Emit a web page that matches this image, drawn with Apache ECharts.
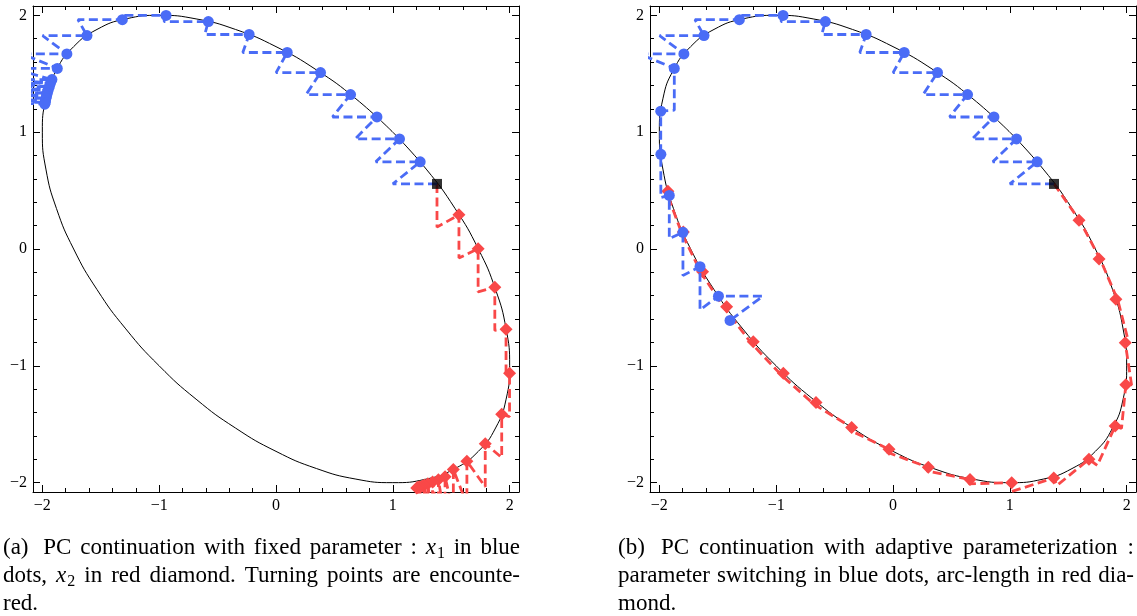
<!DOCTYPE html>
<html><head><meta charset="utf-8">
<script src="https://cdn.jsdelivr.net/npm/echarts@6/dist/echarts.min.js"></script>
<style>html,body{margin:0;padding:0;background:#fff}#c{width:1137px;height:616px}</style>
</head><body><div id="c"></div>
<script>
// ---------- data ----------
const majorTicks = [-2, -1, 0, 1, 2];
const minorTicks = [-2, -1.8, -1.6, -1.4, -1.2, -1, -0.8, -0.6, -0.4, -0.2, 0, 0.2, 0.4, 0.6, 0.8, 1, 1.2, 1.4, 1.6, 1.8, 2];

// solution curve (ellipse)
const curvePts = [[1,1],[1.2856,0.6841],[1.5321,0.3473],[1.7321,0],[1.8794,-0.3473],[1.9696,-0.684],[2,-1],[1.9696,-1.2856],[1.8794,-1.5321],[1.7321,-1.7321],[1.5321,-1.8794],[1.2856,-1.9696],[1,-2],[0.684,-1.9696],[0.3473,-1.8794],[0,-1.7321],[-0.3473,-1.5321],[-0.6841,-1.2855],[-1,-1],[-1.2855,-0.6841],[-1.5321,-0.3473],[-1.7321,0],[-1.8794,0.3473],[-1.9696,0.684],[-2,1],[-1.9696,1.2856],[-1.8794,1.5321],[-1.7321,1.7321],[-1.5321,1.8794],[-1.2856,1.9696],[-1,2],[-0.684,1.9696],[-0.3473,1.8794],[0,1.7321],[0.3473,1.5321],[0.6841,1.2855],[1,1]];

const startPt = [1.378, 0.557];

// (a) fixed parameter x1 : blue dots and predictor points
const aBlueDots = [[1.234,0.746],[1.057,0.942],[0.864,1.13],[0.638,1.322],[0.381,1.51],[0.096,1.682],[-0.23,1.836],[-0.579,1.947],[-0.941,1.999],[-1.315,1.963],[-1.618,1.827],[-1.79,1.67],[-1.872,1.546],[-1.918,1.45],[-1.93,1.42],[-1.94,1.39],[-1.95,1.36],[-1.957,1.335],[-1.964,1.31],[-1.969,1.29],[-1.973,1.27],[-1.976,1.255],[-1.979,1.24]];
const aBluePreds = [[1.0,0.557],[0.854,0.746],[0.677,0.942],[0.484,1.13],[0.258,1.322],[0.001,1.51],[-0.284,1.682],[-0.61,1.836],[-0.959,1.947],[-1.321,1.999],[-1.695,1.963],[-1.998,1.827],[-2.17,1.67],[-2.252,1.546],[-2.298,1.45],[-2.31,1.42],[-2.32,1.39],[-2.33,1.36],[-2.337,1.335],[-2.344,1.31],[-2.349,1.29],[-2.353,1.27],[-2.356,1.255]];
// (a) fixed parameter x2 : red diamonds and predictor points
const aRedDots = [[1.566,0.293],[1.73,0.003],[1.873,-0.327],[1.969,-0.686],[1.999,-1.064],[1.932,-1.415],[1.791,-1.666],[1.634,-1.816],[1.518,-1.887],[1.447,-1.95],[1.39,-1.975],[1.34,-1.995],[1.3,-2.01],[1.27,-2.02],[1.25,-2.03],[1.23,-2.035],[1.215,-2.04],[1.205,-2.045]];
const aRedPreds = [[1.378,0.187],[1.566,-0.077],[1.73,-0.367],[1.873,-0.697],[1.969,-1.056],[1.999,-1.434],[1.932,-1.785],[1.791,-2.036],[1.634,-2.186],[1.518,-2.257],[1.447,-2.32],[1.39,-2.345],[1.34,-2.365],[1.3,-2.38],[1.27,-2.39],[1.25,-2.4],[1.23,-2.405],[1.215,-2.41]];

// (b) parameter switching : blue dots and predictor points
const bBlueDots = [[1.234,0.746],[1.057,0.942],[0.864,1.13],[0.638,1.322],[0.381,1.51],[0.096,1.682],[-0.23,1.836],[-0.579,1.947],[-0.941,1.999],[-1.315,1.963],[-1.618,1.827],[-1.79,1.67],[-1.872,1.546],[-1.988,1.18],[-1.987,0.81],[-1.915,0.459],[-1.798,0.143],[-1.652,-0.151],[-1.494,-0.404],[-1.395,-0.611]];
const bBluePreds = [[1.0,0.557],[0.854,0.746],[0.677,0.942],[0.484,1.13],[0.258,1.322],[0.001,1.51],[-0.284,1.682],[-0.61,1.836],[-0.959,1.947],[-1.321,1.999],[-1.695,1.963],[-1.998,1.827],[-2.17,1.67],[-1.872,1.188],[-1.988,0.81],[-1.987,0.44],[-1.915,0.089],[-1.798,-0.227],[-1.652,-0.521],[-1.114,-0.404]];
// (b) arc-length : red diamonds and predictor points
const bRedDots = [[1.592,0.246],[1.764,-0.085],[1.908,-0.43],[1.988,-0.803],[1.993,-1.163],[1.902,-1.515],[1.677,-1.8],[1.376,-1.96],[1.016,-2.0],[0.659,-1.972],[0.302,-1.869],[-0.034,-1.715],[-0.354,-1.527],[-0.659,-1.313],[-0.939,-1.064],[-1.196,-0.794],[-1.424,-0.494],[-1.63,-0.194],[-1.795,0.145],[-1.927,0.495]];
const bRedPreds = [[1.6,0.24],[1.775,-0.09],[1.925,-0.44],[2.02,-0.81],[2.042,-1.163],[1.956,-1.536],[1.749,-1.852],[1.404,-2.024],[1.016,-2.076],[0.65,-2.01],[0.29,-1.9],[-0.05,-1.74],[-0.37,-1.55],[-0.675,-1.33],[-0.955,-1.08],[-1.21,-0.81],[-1.44,-0.51],[-1.645,-0.2],[-1.81,0.14],[-1.94,0.49]];

// captions
const captionA = [
  ["(a)","PC","continuation","with","fixed","parameter",":",["x","1"],"in","blue"],
  ["dots,",["x","2"],"in","red","diamond.","Turning","points","are","encounte-"],
  ["red."]
];
const captionB = [
  ["(b)","PC","continuation","with","adaptive","parameterization",":"],
  ["parameter","switching","in","blue","dots,","arc-length","in","red","dia-"],
  ["mond."]
];

// ---------- chart ----------
const FONT = '"Liberation Serif","Times New Roman",serif';
const BLUE = '#4a6cf6', RED = '#f94848';
const RANGE = [-2.08, 2.08];
const fmt = v => (v < 0 ? '\u2212' + Math.abs(v) : String(v));

const grids = [
  {left: 33, top: 6, width: 486, height: 486},
  {left: 650, top: 6, width: 486, height: 486}
];

function axisSet(dim, g) {
  const posA = dim === 'x' ? 'bottom' : 'left';
  const posB = dim === 'x' ? 'top' : 'right';
  const base = {gridIndex: g, type: 'value', min: RANGE[0], max: RANGE[1], splitLine: {show: false}, silent: true};
  const major = (pos, labels) => Object.assign({}, base, {
    position: pos,
    axisLine: {show: true, onZero: false, lineStyle: {color: '#000', width: 1}},
    axisTick: {show: true, inside: true, length: 7, customValues: majorTicks, lineStyle: {color: '#000', width: 1}},
    axisLabel: labels ? {show: true, customValues: majorTicks, formatter: fmt, color: '#000', fontFamily: FONT, fontSize: 16, margin: 6} : {show: false}
  });
  const minor = pos => Object.assign({}, base, {
    position: pos,
    axisLine: {show: false, onZero: false},
    axisTick: {show: true, inside: true, length: 4, customValues: minorTicks, lineStyle: {color: '#000', width: 1}},
    axisLabel: {show: false}
  });
  return [major(posA, true), minor(posA), major(posB, false), minor(posB)];
}

function buildPath(start, preds, dots, symbol, size) {
  const d = [{value: start, symbol: 'none'}];
  for (let i = 0; i < dots.length; i++) {
    d.push({value: preds[i], symbol: 'none'});
    d.push({value: dots[i], symbol: symbol, symbolSize: size});
  }
  return d;
}

function panelSeries(g, bPreds, bDots, rPreds, rDots) {
  const ax = {xAxisIndex: g * 4, yAxisIndex: g * 4};
  return [
    Object.assign({type: 'line', data: curvePts, smooth: 0.5, symbol: 'none', lineStyle: {color: '#000', width: 1}, z: 1, silent: true}, ax),
    Object.assign({type: 'line', data: buildPath(startPt, rPreds, rDots, 'diamond', 13), symbol: 'diamond', showSymbol: true,
      lineStyle: {color: RED, width: 2.8, type: [9, 4.5]}, itemStyle: {color: RED}, z: 2, silent: true}, ax),
    Object.assign({type: 'line', data: buildPath(startPt, bPreds, bDots, 'circle', 11), symbol: 'circle', showSymbol: true,
      lineStyle: {color: BLUE, width: 2.8, type: [9, 4.5]}, itemStyle: {color: BLUE}, z: 3, silent: true}, ax),
    Object.assign({type: 'scatter', data: [startPt], symbol: 'rect', symbolSize: 10, itemStyle: {color: '#000'}, z: 4, silent: true}, ax)
  ];
}

// caption layout (justified lines)
const ctx = document.createElement('canvas').getContext('2d');
const F_MAIN = '23px "Liberation Serif"', F_IT = 'italic 23px "Liberation Serif"', F_SUB = '16px "Liberation Serif"';
function mw(t, f) { ctx.font = f; return ctx.measureText(t).width; }
function tokW(tk) { return Array.isArray(tk) ? mw(tk[0], F_IT) + 1 + mw(tk[1], F_SUB) : mw(tk, F_MAIN); }
function txt(t, f, x, y) {
  return {type: 'text', x: x, y: y, silent: true,
    style: {text: t, font: f, fill: '#000', textAlign: 'left', textVerticalAlign: 'middle', verticalAlign: 'middle'}};
}
function caption(lines, x0, width, y0, lh) {
  const els = [];
  lines.forEach((toks, li) => {
    const ws = toks.map(tokW);
    const total = ws.reduce((a, b) => a + b, 0);
    const lead = li === 0 ? 6 : 0;
    const gap = li < lines.length - 1 ? (width - total - lead) / (toks.length - 1) : mw(' ', F_MAIN);
    let x = x0;
    const y = y0 + li * lh;
    toks.forEach((tk, i) => {
      if (Array.isArray(tk)) {
        els.push(txt(tk[0], F_IT, x, y));
        els.push(txt(tk[1], F_SUB, x + mw(tk[0], F_IT) + 1, y + 6));
      } else {
        els.push(txt(tk, F_MAIN, x, y));
      }
      x += ws[i] + gap + (i === 0 ? lead : 0);
    });
  });
  return els;
}

const chart = echarts.init(document.getElementById('c'), null, {renderer: 'canvas'});
chart.setOption({
  animation: false,
  backgroundColor: '#fff',
  grid: grids.map(g => Object.assign({containLabel: false, show: false}, g)),
  xAxis: [].concat(axisSet('x', 0), axisSet('x', 1)),
  yAxis: [].concat(axisSet('y', 0), axisSet('y', 1)),
  series: [].concat(
    panelSeries(0, aBluePreds, aBlueDots, aRedPreds, aRedDots),
    panelSeries(1, bBluePreds, bBlueDots, bRedPreds, bRedDots)
  ),
  graphic: [].concat(caption(captionA, 3, 517, 548, 28), caption(captionB, 618, 516, 548, 28))
});
</script></body></html>
